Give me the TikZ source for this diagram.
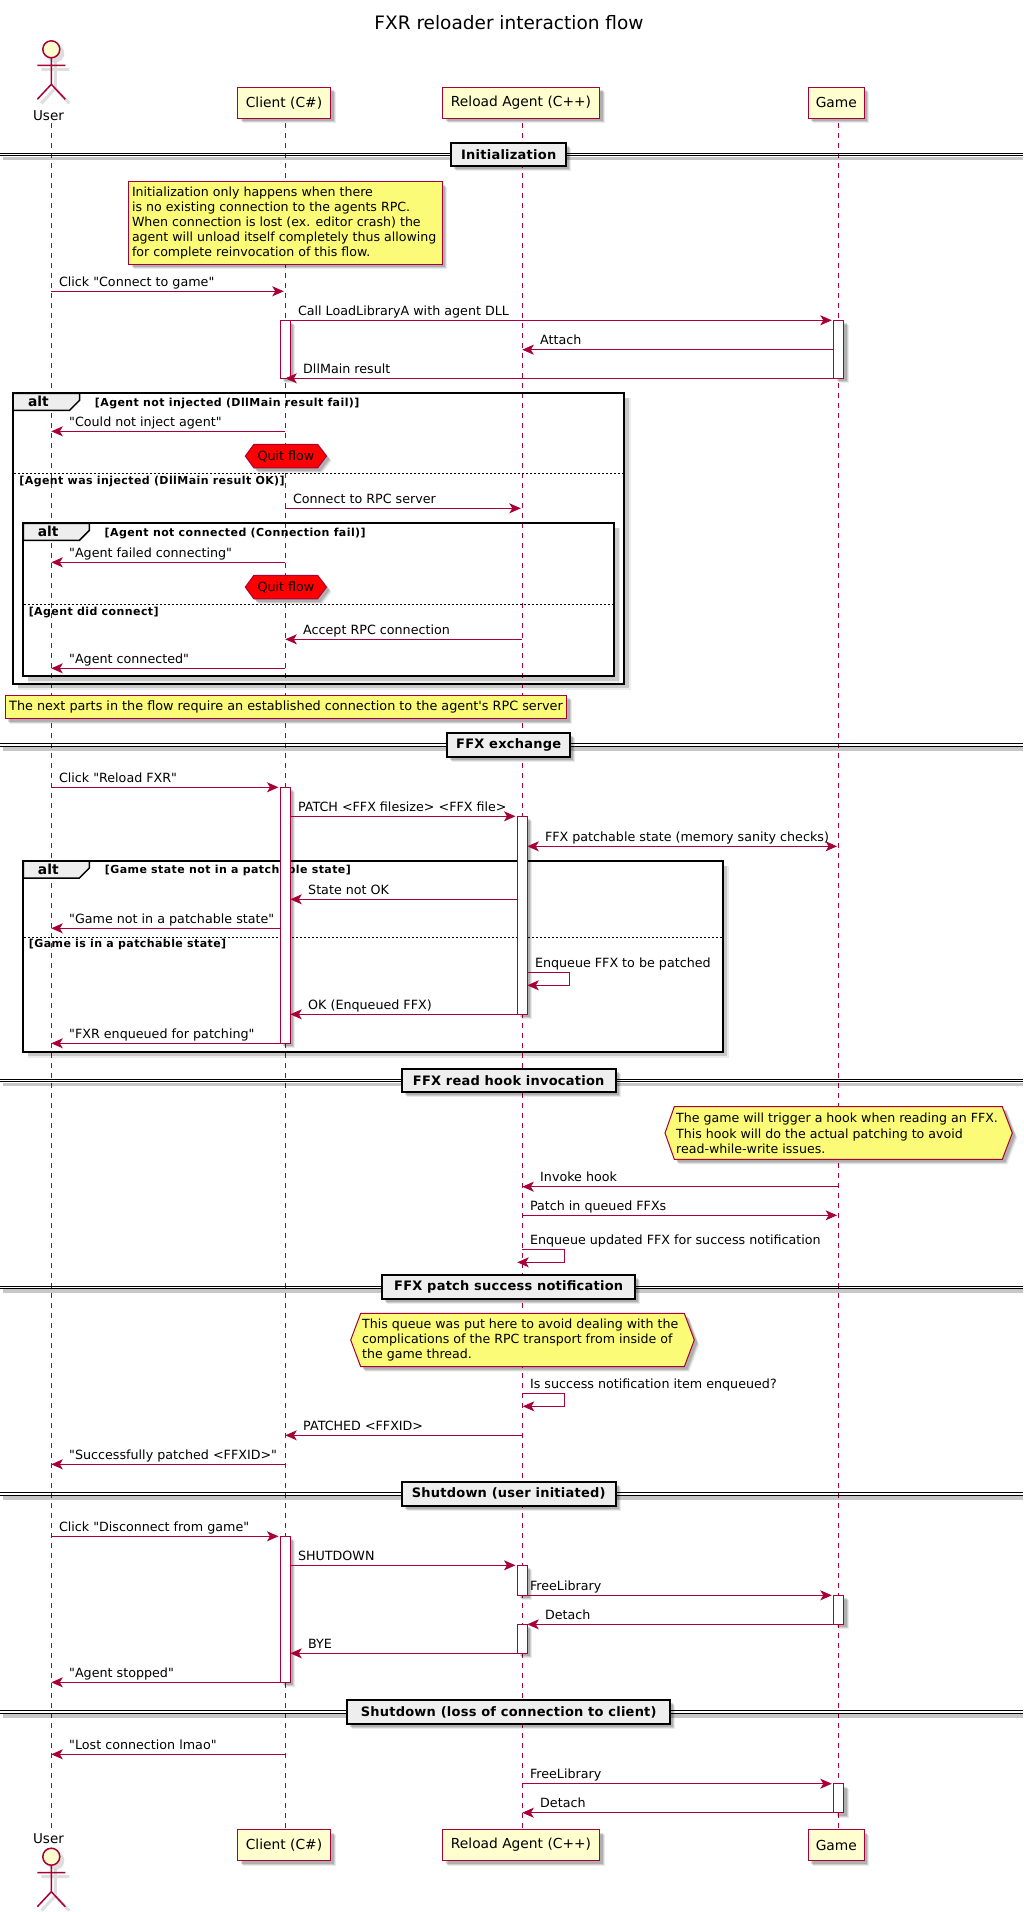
\documentclass[tikz,border=0pt]{standalone}
\usepackage{fontspec}
\newfontfamily\djv{DejaVu Sans}
\newfontfamily\condfont[LetterSpace=3.8]{DejaVu Sans}
\newfontfamily\divfont[LetterSpace=1.8]{DejaVu Sans}
\usetikzlibrary{arrows.meta,shadows}
\definecolor{puml}{HTML}{A80036}
\definecolor{partfill}{HTML}{FEFECE}
\definecolor{notefill}{HTML}{FBFB77}
\definecolor{grpfill}{HTML}{EEEEEE}
\def\xU{51.3}\def\xC{285.3}\def\xA{522.3}\def\xG{838.6}
\def\fs#1{\djv\fontsize{#1}{15.1}\selectfont}
\tikzset{
  x=1pt,y=-1pt,
  >={Stealth[length=11.5pt,width=10pt,inset=3pt]},
  shad/.style={drop shadow={shadow xshift=5pt,shadow yshift=-5pt,fill=black,opacity=.08},
               drop shadow={shadow xshift=4pt,shadow yshift=-4pt,fill=black,opacity=.12},
               drop shadow={shadow xshift=3pt,shadow yshift=-3pt,fill=black,opacity=.15}},
  life/.style={draw=puml,line width=1pt,dash pattern=on 5pt off 5pt},
  msg/.style={draw=puml,line width=1pt},
  lbl/.style={anchor=base west,inner sep=0pt,font=\fs{12.7}},
  part/.style={draw=puml,line width=1.6pt,fill=partfill,shad,inner sep=0pt,minimum height=31pt,font=\fs{13.8}},
  act/.style={draw=puml,line width=1pt,fill=white,shad,inner sep=0pt,minimum width=10pt},
  notebox/.style={draw=puml,line width=1pt,fill=notefill,shad},
  notetxt/.style={anchor=west,inner sep=0pt,align=left,font=\fs{12.6}},
  hexred/.style={draw=puml,line width=1pt,fill=red,shad},
  divbox/.style={draw=black,line width=2pt,fill=grpfill,shad,inner sep=0pt,minimum height=23.5pt,font=\divfont\fontsize{13}{15}\selectfont\bfseries},
  frameline/.style={draw=black,line width=2pt},
  tabbox/.style={draw=black,line width=1.5pt,fill=grpfill},
  altlbl/.style={anchor=base,inner sep=0pt,font=\fs{13.8}\bfseries},
  condlbl/.style={anchor=base west,inner sep=0pt,font=\condfont\fontsize{11}{13}\selectfont\bfseries},
  sepline/.style={draw=black,line width=1pt,dash pattern=on 2pt off 2pt},
  actorline/.style={draw=puml,line width=1.5pt},
  actorshadow/.style={draw=black,opacity=.13,line width=3pt},
}
% style, id, x1, x2, y, label x, text
\newcommand\Msg[7][->]{%
  \coordinate (#2a) at ({#3},#5);
  \coordinate (#2b) at ({#4},#5);
  \draw[msg,#1] (#2a) -- (#2b);
  \node[lbl] (#2t) at ({#6},{#5-5}) {#7};}
% id, x start, x far, y1, y2, tip x, label
\newcommand\SelfMsg[7]{%
  \coordinate (#1a) at ({#2},#4);
  \coordinate (#1c) at ({#3},#4);
  \coordinate (#1d) at ({#3},#5);
  \coordinate (#1b) at ({#6},#5);
  \draw[msg,->] (#1a) -- (#1c) -- (#1d) -- (#1b);
  \node[lbl] (#1t) at ({#2+7.5},{#4-5}) {#7};}
% id, x, y1, y2
\newcommand\Act[4]{\node[act,minimum height={(#4-#3)*1pt}] (#1) at ({#2},{(#3+#4)/2}) {};}
% id, center y, width, text
\newcommand\Divider[4]{%
  \draw[black,opacity=.22,line width=3.5pt] (3,{#2+4}) -- (1023,{#2+4});
  \draw[black,line width=1pt] (0,{#2-1.2}) -- (1023,{#2-1.2});
  \draw[black,line width=1pt] (0,{#2+1.2}) -- (1023,{#2+1.2});
  \node[divbox,minimum width=#3pt] (#1) at (508.7,#2) {#4\hspace{8pt}};}
% x1,y1,x2,y2 frame with shadow on right/bottom; tab right x, alt-label x, cond-label x, cond text
\newcommand\Frame[8]{%
  \draw[black,opacity=.07,line width=6pt] ({#3+3.5},{#2+5}) -- ({#3+3.5},{#4+3.5}) -- ({#1+5},{#4+3.5});
  \draw[black,opacity=.15,line width=3.5pt] ({#3+3},{#2+5}) -- ({#3+3},{#4+3}) -- ({#1+5},{#4+3});
  \draw[frameline] (#1,#2) rectangle (#3,#4);
  \draw[tabbox] (#1,#2) -- (#5,#2) -- (#5,{#2+7}) -- ({#5-10},{#2+17}) -- (#1,{#2+17}) -- cycle;
  \node[altlbl] at (#6,{#2+13.5}) {alt};
  \node[condlbl] at (#7,{#2+12.7}) {#8};}
% quit hexagon centred on client lifeline
\newcommand\Quit[2]{%
  \path[hexred] (245.3,{#2+11.8}) -- (253.9,#2) -- (317.6,#2) -- (326.5,{#2+11.8}) -- (317.6,{#2+23.6}) -- (253.9,{#2+23.6}) -- cycle;
  \node[inner sep=0pt,font=\fs{12.7}] (#1) at (285.9,{#2+11.8}) {Quit flow};}
\newcommand\ActorLimbs[2]{
  ({#1},{#2+8.5}) -- ({#1},{#2+35})
  ({#1-14},{#2+16}) -- ({#1+14},{#2+16})
  ({#1-14},{#2+50}) -- ({#1},{#2+35}) -- ({#1+14},{#2+50})}
\newcommand\Actor[3]{%
  \draw[actorshadow] \ActorLimbs{#2+4}{#3+4};
  \fill[black,opacity=.13] ({#2+4},{#3+4}) circle[radius=9pt];
  \draw[actorline] \ActorLimbs{#2}{#3};
  \node[circle,draw=puml,line width=1.5pt,fill=partfill,inner sep=0pt,minimum size=17pt] (#1) at (#2,#3) {};}
\begin{document}
\begin{tikzpicture}
\useasboundingbox (0,0) rectangle (1023,1912);
\fill[white] (0,0) rectangle (1023,1912);

\node[anchor=base,inner sep=0pt,font=\fs{18.5}] (title) at (509,29) {FXR reloader interaction flow};

% participants
\Actor{user}{\xU}{49.3}
\node[anchor=base,inner sep=0pt,font=\fs{13.5}] (userl) at (48.5,120) {User};
\node[part,minimum width=93pt] (client) at (284,102.8) {Client (C\#)};
\node[part,minimum width=157pt] (agent) at (521,102.8) {Reload Agent (C++)};
\node[part,minimum width=56pt] (game) at (836.3,102.8) {Game};
\Actor{userb}{\xU}{1856.7}
\node[anchor=base,inner sep=0pt,font=\fs{13.5}] (userlb) at (48.5,1843) {User};
\node[part,minimum width=93pt] (clientb) at (284,1845) {Client (C\#)};
\node[part,minimum width=157pt] (agentb) at (521,1845) {Reload Agent (C++)};
\node[part,minimum width=56pt] (gameb) at (836.3,1845) {Game};

% lifelines
\coordinate (lu1) at (\xU,123); \coordinate (lu2) at (\xU,1828);
\coordinate (lc1) at (\xC,123); \coordinate (lc2) at (\xC,1829);
\coordinate (la1) at (\xA,123); \coordinate (la2) at (\xA,1829);
\coordinate (lg1) at (\xG,123); \coordinate (lg2) at (\xG,1829);
\draw[life] (lu1) -- (lu2);
\draw[life] (lc1) -- (lc2);
\draw[life] (la1) -- (la2);
\draw[life] (lg1) -- (lg2);

% frames
\Frame{13.1}{393.3}{624}{683.7}{79.6}{38.4}{94.7}{[Agent not injected (DllMain result fail)]}
\draw[sepline] (14,473.3) -- (623,473.3);
\node[condlbl] (else1) at (19.2,484) {[Agent was injected (DllMain result OK)]};
\Frame{23.3}{523.3}{613.9}{676}{89.4}{48.2}{104.5}{[Agent not connected (Connection fail)]}
\draw[sepline] (24,604.3) -- (613,604.3);
\node[condlbl] (else2) at (28.6,615) {[Agent did connect]};
\Frame{23.3}{861}{722.7}{1051.7}{89.3}{48.3}{104.7}{[Game state not in a patchable state]}
\draw[sepline] (24,937.3) -- (722,937.3);
\node[condlbl] (else3) at (28.7,947.7) {[Game is in a patchable state]};

% dividers
\Divider{d1}{154.7}{115}{Initialization}
\Divider{d2}{745}{122.5}{FFX exchange}
\Divider{d3}{1080.3}{214}{FFX read hook invocation}
\Divider{d4}{1287.2}{253.4}{FFX patch success notification}
\Divider{d5}{1493.8}{213.7}{Shutdown (user initiated)}
\Divider{d6}{1712}{323}{Shutdown (loss of connection to client)}

% notes
\node[notebox,minimum width=313.8pt,minimum height=82.6pt,inner sep=0pt] (n1) at (285.5,223) {};
\node[notetxt] (n1t) at (131.8,223.3) {Initialization only happens when there\\is no existing connection to the agents RPC.\\When connection is lost (ex. editor crash) the\\agent will unload itself completely thus allowing\\for complete reinvocation of this flow.};
\node[notebox,minimum width=561.7pt,minimum height=23.4pt,inner sep=0pt] (n2) at (286.1,707) {};
\node[notetxt,font=\fs{12.8}] (n2t) at (9,707) {The next parts in the flow require an established connection to the agent's RPC server};
\path[notebox] (665,1133) -- (674.3,1106.7) -- (1002.3,1106.7) -- (1012.3,1133) -- (1002.3,1159.3) -- (674.3,1159.3) -- cycle;
\node[notetxt] (n3t) at (676,1133.3) {The game will trigger a hook when reading an FFX.\\This hook will do the actual patching to avoid\\read-while-write issues.};
\path[notebox] (350.7,1340) -- (360.7,1313.3) -- (684.3,1313.3) -- (694.3,1340) -- (684.3,1366.7) -- (360.7,1366.7) -- cycle;
\node[notetxt] (n4t) at (362,1340.3) {This queue was put here to avoid dealing with the\\complications of the RPC transport from inside of\\the game thread.};

% activations
\Act{ac1}{\xC}{320.3}{378.3}
\Act{ag1}{\xG}{320.3}{378.3}
\Act{ac2}{\xC}{787.3}{1043.3}
\Act{aa2}{\xA}{816.3}{1014.3}
\Act{ac3}{\xC}{1536.3}{1682.3}
\Act{aa3}{\xA}{1565.3}{1595.3}
\Act{aa4}{\xA}{1624.3}{1653.3}
\Act{ag3}{\xG}{1595.3}{1624.3}
\Act{ag4}{\xG}{1783.7}{1812.7}

% hexagons
\Quit{q1}{444.3}
\Quit{q2}{575.3}

% messages: Initialization
\Msg{m1}{\xU}{\xC-1.5}{291.3}{\xU+7.5}{Click "Connect to game"}
\Msg{m2}{\xC+5}{\xG-6.8}{320.3}{\xC+12.5}{Call LoadLibraryA with agent DLL}
\Msg{m3}{\xG-5}{\xA}{349.7}{\xA+17.7}{Attach}
\Msg{m4}{\xG-5}{\xC}{378.3}{\xC+17.7}{DllMain result}
\Msg{m5}{\xC}{\xU}{431.3}{\xU+17.7}{"Could not inject agent"}
\Msg{m6}{\xC}{\xA-1.5}{508.3}{\xC+7.5}{Connect to RPC server}
\Msg{m7}{\xC}{\xU}{562.3}{\xU+17.7}{"Agent failed connecting"}
\Msg{m8}{\xA}{\xC}{639.3}{\xC+17.7}{Accept RPC connection}
\Msg{m9}{\xC}{\xU}{668.3}{\xU+17.7}{"Agent connected"}
% FFX exchange
\Msg{m10}{\xU}{\xC-6.8}{787.3}{\xU+7.5}{Click "Reload FXR"}
\Msg{m11}{\xC+5}{\xA-6.8}{816.3}{\xC+12.5}{PATCH <FFX filesize> <FFX file>}
\Msg[<->]{m12}{\xA+5}{\xG-1.5}{846.3}{\xA+22.5}{FFX patchable state (memory sanity checks)}
\Msg{m13}{\xA-5}{\xC+5}{899.3}{\xC+22.7}{State not OK}
\Msg{m14}{\xC-5}{\xU}{928.3}{\xU+17.7}{"Game not in a patchable state"}
\SelfMsg{m15}{\xA+5}{\xA+47}{972.3}{985.3}{\xA+5}{Enqueue FFX to be patched}
\Msg{m16}{\xA-5}{\xC+5}{1014.3}{\xC+22.7}{OK (Enqueued FFX)}
\Msg{m17}{\xC-5}{\xU}{1043.3}{\xU+17.7}{"FXR enqueued for patching"}
% read hook
\Msg{m18}{\xG}{\xA}{1186.7}{\xA+17.7}{Invoke hook}
\Msg{m19}{\xA}{\xG-1.5}{1215.3}{\xA+7.5}{Patch in queued FFXs}
\SelfMsg{m20}{\xA}{\xA+42}{1249.3}{1262.3}{\xA-5}{Enqueue updated FFX for success notification}
% success notification
\SelfMsg{m21}{\xA}{\xA+42}{1393.3}{1406.3}{\xA+0.5}{Is success notification item enqueued?}
\Msg{m22}{\xA}{\xC}{1435.3}{\xC+17.7}{PATCHED <FFXID>}
\Msg{m23}{\xC}{\xU}{1464.3}{\xU+17.7}{"Successfully patched <FFXID>"}
% shutdown user
\Msg{m24}{\xU}{\xC-6.8}{1536.3}{\xU+7.5}{Click "Disconnect from game"}
\Msg{m25}{\xC+5}{\xA-6.8}{1565.3}{\xC+12.5}{SHUTDOWN}
\Msg{m26}{\xA+5}{\xG-6.8}{1595.3}{\xA+7.5}{FreeLibrary}
\Msg{m27}{\xG-5}{\xA+5}{1624.3}{\xA+22.5}{Detach}
\Msg{m28}{\xA-5}{\xC+5}{1653.3}{\xC+22.7}{BYE}
\Msg{m29}{\xC-5}{\xU}{1682.3}{\xU+17.7}{"Agent stopped"}
% shutdown loss
\Msg{m30}{\xC}{\xU}{1754.3}{\xU+17.7}{"Lost connection lmao"}
\Msg{m31}{\xA}{\xG-6.8}{1783.7}{\xA+7.5}{FreeLibrary}
\Msg{m32}{\xG-5}{\xA}{1812.7}{\xA+17.7}{Detach}
\end{tikzpicture}
\end{document}
